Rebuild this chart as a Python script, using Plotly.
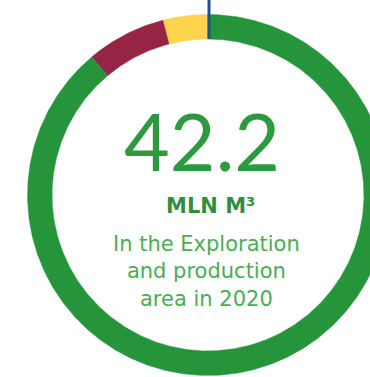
import numpy as np
import plotly.graph_objects as go

# Data (mln m3), drawn counter-clockwise from the top marker
segments = ["Segment A", "Segment B", "Segment C"]
values = [1.7, 3.0, 37.5]
colors = ["#FED34E", "#962545", "#25943A"]
total_label = "42.2"
unit_label = "MLN M³"
subtitle_lines = ["In the Exploration", "and production", "area in 2020"]

W, H = 370, 377
cx, cy = 208, 195
r_out, r_in = 180.5, 156

fig = go.Figure()
total = sum(values)
start = 0.0
for name, v, c in zip(segments, values, colors):
    a0 = start / total * 2 * np.pi
    a1 = (start + v) / total * 2 * np.pi
    t = np.linspace(a0, a1, max(int((a1 - a0) * 120), 4))
    # counter-clockwise from top: x = cx - r sin(t), y(down) = cy - r cos(t)
    xo = cx - r_out * np.sin(t)
    yo = cy - r_out * np.cos(t)
    xi = cx - r_in * np.sin(t[::-1])
    yi = cy - r_in * np.cos(t[::-1])
    fig.add_trace(go.Scatter(
        x=np.concatenate([xo, xi, xo[:1]]),
        y=np.concatenate([yo, yi, yo[:1]]),
        mode="lines", fill="toself", fillcolor=c,
        line=dict(width=0.5, color=c), name=name, hoverinfo="name",
    ))
    start += v

fig.add_shape(type="line", x0=cx + 1, x1=cx + 1, y0=0, y1=cy - r_in,
              line=dict(color="#1F5288", width=3))

fig.add_annotation(x=202, y=140, text=total_label, showarrow=False,
                   font=dict(family="Lato", size=79, color="#2E9A3F"),
                   xanchor="center", yanchor="middle")
fig.add_annotation(x=210, y=206, text="<b>" + unit_label + "</b>", showarrow=False,
                   font=dict(family="DejaVu Sans", size=21, color="#2F8F3F"),
                   xanchor="center", yanchor="middle")
fig.add_annotation(x=206, y=271, text="<br>".join(subtitle_lines), showarrow=False,
                   font=dict(family="DejaVu Sans", size=21, color="#4AAC56"),
                   xanchor="center", yanchor="middle", align="center")

fig.update_layout(
    width=W, height=H, margin=dict(l=0, r=0, t=0, b=0),
    paper_bgcolor="white", plot_bgcolor="white", showlegend=False,
    xaxis=dict(range=[0, W], visible=False, fixedrange=True),
    yaxis=dict(range=[H, 0], visible=False, fixedrange=True),
)
fig.write_html("out.html")
